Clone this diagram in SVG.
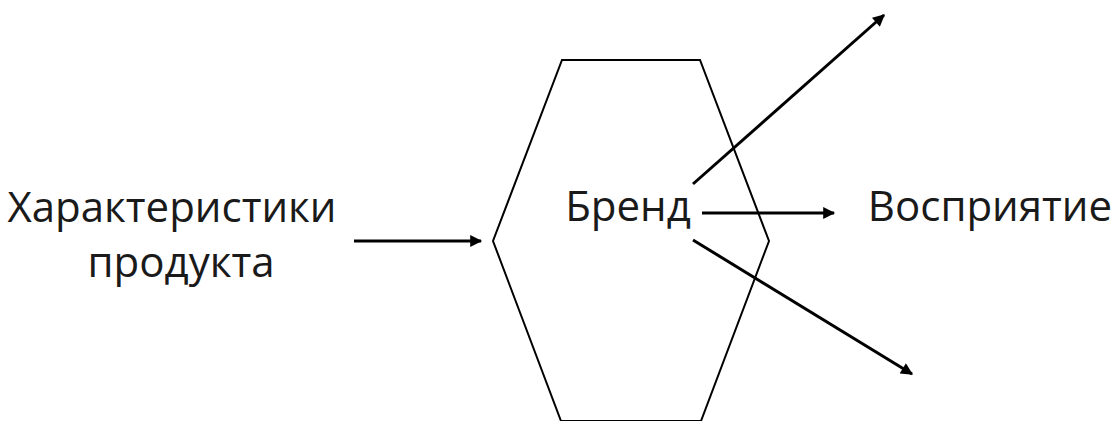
<svg xmlns="http://www.w3.org/2000/svg" width="1117" height="421" viewBox="0 0 1117 421">
  <style>
    .lbl { font-family: "Open Sans", "Noto Sans", "DejaVu Sans", sans-serif; font-size: 42px; fill: #1a1a1a; text-anchor: middle; }
    .edge { stroke: #000; stroke-width: 3; fill: none; marker-end: url(#arrow); }
    .shape { stroke: #000; stroke-width: 2; fill: #fff; }
  </style>
  <defs>
    <marker id="arrow" viewBox="0 0 10 10" refX="9" refY="5" markerWidth="4.5" markerHeight="4" orient="auto" markerUnits="strokeWidth">
      <path d="M0,0 L10,5 L0,10 Z" fill="#000"/>
    </marker>
  </defs>
  <rect width="1117" height="421" fill="#fff"/>

  <g id="node-brand">
    <polygon class="shape" points="562,60 700,60 769,241 701,421 561,421 493,241"/>
    <text class="lbl" x="628" y="221">Бренд</text>
  </g>

  <g id="node-features">
    <text class="lbl" x="172" y="222">Характеристики</text>
    <text class="lbl" x="181" y="277">продукта</text>
  </g>

  <g id="node-perception">
    <text class="lbl" x="990" y="221">Восприятие</text>
  </g>

  <g id="connectors">
    <line class="edge" x1="354" y1="241" x2="481" y2="241"/>
    <line class="edge" x1="702" y1="213" x2="834" y2="213"/>
    <line class="edge" x1="693" y1="184" x2="884" y2="15"/>
    <line class="edge" x1="693" y1="240" x2="912" y2="374"/>
  </g>
</svg>
